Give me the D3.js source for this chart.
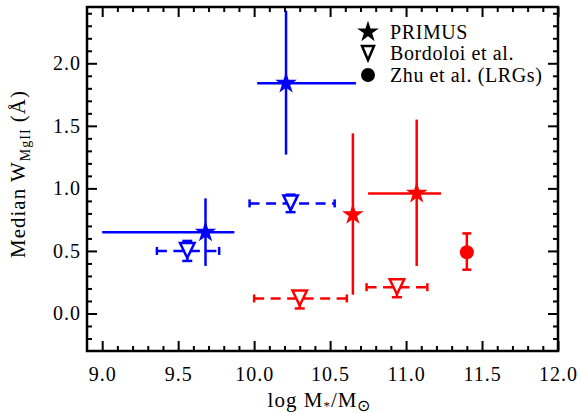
<!DOCTYPE html>
<html>
<head>
<meta charset="utf-8">
<script src="https://cdn.jsdelivr.net/npm/d3@7"></script>
<style>
  body { margin: 0; background: #fff; }
  svg text { font-family: "Liberation Serif", "Times New Roman", serif; }
</style>
</head>
<body>
<div id="chart"></div>
<script>
// values (log M*, median W, and error bar ends)
var primusX    = [9.68, 10.21, 10.65, 11.07];
var primusY    = [0.65, 1.84, 0.79, 0.96];
var primusXLo  = [9.00, 10.02, 10.65, 10.75];
var primusXHi  = [9.87, 10.67, 10.65, 11.23];
var primusYLo  = [0.38, 1.27, 0.15, 0.38];
var primusYHi  = [0.92, 2.42, 1.44, 1.55];
var primusType = ["SF", "SF", "Q", "Q"];

var bordX    = [9.56, 10.24, 10.30, 10.94];
var bordY    = [0.50, 0.88, 0.12, 0.21];
var bordXLo  = [9.36, 9.97, 10.00, 10.74];
var bordXHi  = [9.77, 10.53, 10.61, 11.14];
var bordYLo  = [0.42, 0.81, 0.04, 0.13];
var bordYHi  = [0.58, 0.95, 0.17, 0.27];
var bordType = ["SF", "SF", "Q", "Q"];

var zhuX = [11.40], zhuY = [0.49], zhuYLo = [0.35], zhuYHi = [0.64];

var xMajor = [9.0, 9.5, 10.0, 10.5, 11.0, 11.5, 12.0];
var yMajor = [0.0, 0.5, 1.0, 1.5, 2.0];
var legendLabels = ["PRIMUS", "Bordoloi et al.", "Zhu et al. (LRGs)"];

(function () {
    var serif = '"Liberation Serif", "Times New Roman", serif';
    var margin = { top: 7, right: 23, bottom: 62, left: 87 },
        width = 581,
        height = 413;

    var svg = d3.select('#chart')
                .append('svg')
                .attr('width', width)
                .attr('height', height)
                .append('g')
                .attr('transform', 'translate(' + margin.left + ',' + margin.top + ')');

    width = width - margin.left - margin.right;
    height = height - margin.top - margin.bottom;

    var xScale = d3.scaleLinear().domain([8.9, 12.0]).range([0, width]);
    var yScale = d3.scaleLinear().domain([-0.3, 2.45]).range([height, 0]);
    var colour = d3.scaleOrdinal().domain(["SF", "Q"]).range(["#0000ff", "#ff0000"]);

    // minor tick positions every 0.1
    var xMinor = d3.range(91, 120).map(function (d) { return d / 10; })
                   .filter(function (d) { return Math.round(d * 10) % 5 !== 0; });
    var yMinor = d3.range(-2, 25).map(function (d) { return d / 10; })
                   .filter(function (d) { return Math.round(d * 10) % 5 !== 0; });

    function tidy(g) {
        g.select('.domain').remove();
        g.attr('font-family', serif).attr('font-size', 20);
        g.selectAll('line').attr('stroke', '#000').attr('stroke-width', 2);
        g.selectAll('text').attr('fill', '#000')
            .style('font-family', serif).style('font-size', '20px')
            .style('letter-spacing', '1px');
    }

    // ticks on all four sides, pointing in
    svg.append('g').attr('transform', 'translate(0,' + height + ')')
        .call(d3.axisBottom(xScale).tickValues(xMajor).tickSize(-10).tickPadding(16)
              .tickFormat(d3.format('.1f')))
        .call(tidy);
    svg.append('g').attr('transform', 'translate(0,' + height + ')')
        .call(d3.axisBottom(xScale).tickValues(xMinor).tickSize(-5).tickFormat(''))
        .call(tidy);
    svg.append('g')
        .call(d3.axisTop(xScale).tickValues(xMajor).tickSize(-10).tickFormat(''))
        .call(tidy);
    svg.append('g')
        .call(d3.axisTop(xScale).tickValues(xMinor).tickSize(-5).tickFormat(''))
        .call(tidy);

    svg.append('g')
        .call(d3.axisLeft(yScale).tickValues(yMajor).tickSize(-10).tickPadding(6)
              .tickFormat(d3.format('.1f')))
        .call(tidy);
    svg.append('g')
        .call(d3.axisLeft(yScale).tickValues(yMinor).tickSize(-5).tickFormat(''))
        .call(tidy);
    svg.append('g').attr('transform', 'translate(' + width + ',0)')
        .call(d3.axisRight(yScale).tickValues(yMajor).tickSize(-10).tickFormat(''))
        .call(tidy);
    svg.append('g').attr('transform', 'translate(' + width + ',0)')
        .call(d3.axisRight(yScale).tickValues(yMinor).tickSize(-5).tickFormat(''))
        .call(tidy);

    svg.append('rect')
        .attr('width', width).attr('height', height)
        .attr('fill', 'none').attr('stroke', '#000').attr('stroke-width', 2.5);

    // marker shapes
    var star = d3.symbol().type(d3.symbolStar).size(145);
    function downTriangle(w, h) {
        var p = d3.path();
        p.moveTo(-w / 2, -h / 2 - 1);
        p.lineTo(w / 2, -h / 2 - 1);
        p.lineTo(0, h / 2);
        p.closePath();
        return p.toString();
    }

    // PRIMUS: solid error bars + filled stars
    var primus = d3.range(primusX.length);
    var pg = svg.append('g');
    pg.selectAll('.xerr').data(primus).enter().append('line')
        .attr('x1', function (i) { return xScale(primusXLo[i]); })
        .attr('x2', function (i) { return xScale(primusXHi[i]); })
        .attr('y1', function (i) { return yScale(primusY[i]); })
        .attr('y2', function (i) { return yScale(primusY[i]); })
        .attr('stroke', function (i) { return colour(primusType[i]); })
        .attr('stroke-width', 2.5);
    pg.selectAll('.yerr').data(primus).enter().append('line')
        .attr('x1', function (i) { return xScale(primusX[i]); })
        .attr('x2', function (i) { return xScale(primusX[i]); })
        .attr('y1', function (i) { return yScale(primusYLo[i]); })
        .attr('y2', function (i) { return yScale(primusYHi[i]); })
        .attr('stroke', function (i) { return colour(primusType[i]); })
        .attr('stroke-width', 2.5);
    pg.selectAll('path').data(primus).enter().append('path')
        .attr('d', star)
        .attr('transform', function (i) {
            return 'translate(' + xScale(primusX[i]) + ',' + yScale(primusY[i]) + ')';
        })
        .attr('fill', function (i) { return colour(primusType[i]); });

    // Bordoloi et al.: dashed x bars with end ticks, short y bars, open triangles
    var bord = d3.range(bordX.length);
    var bg = svg.append('g');
    bg.selectAll('.xerr').data(bord).enter().append('line')
        .attr('x1', function (i) { return xScale(bordXLo[i]); })
        .attr('x2', function (i) { return xScale(bordXHi[i]); })
        .attr('y1', function (i) { return yScale(bordY[i]); })
        .attr('y2', function (i) { return yScale(bordY[i]); })
        .attr('stroke', function (i) { return colour(bordType[i]); })
        .attr('stroke-width', 2.5)
        .attr('stroke-dasharray', '10,6.5');
    [bordXLo, bordXHi].forEach(function (arr) {
        bg.selectAll(null).data(bord).enter().append('line')
            .attr('x1', function (i) { return xScale(arr[i]); })
            .attr('x2', function (i) { return xScale(arr[i]); })
            .attr('y1', function (i) { return yScale(bordY[i]) - 4; })
            .attr('y2', function (i) { return yScale(bordY[i]) + 4; })
            .attr('stroke', function (i) { return colour(bordType[i]); })
            .attr('stroke-width', 2.5);
    });
    bg.selectAll(null).data(bord).enter().append('line')
        .attr('x1', function (i) { return xScale(bordX[i]); })
        .attr('x2', function (i) { return xScale(bordX[i]); })
        .attr('y1', function (i) { return yScale(bordYLo[i]); })
        .attr('y2', function (i) { return yScale(bordYHi[i]); })
        .attr('stroke', function (i) { return colour(bordType[i]); })
        .attr('stroke-width', 2.5);
    [bordYLo, bordYHi].forEach(function (arr) {
        bg.selectAll(null).data(bord).enter().append('line')
            .attr('x1', function (i) { return xScale(bordX[i]) - 5; })
            .attr('x2', function (i) { return xScale(bordX[i]) + 5; })
            .attr('y1', function (i) { return yScale(arr[i]); })
            .attr('y2', function (i) { return yScale(arr[i]); })
            .attr('stroke', function (i) { return colour(bordType[i]); })
            .attr('stroke-width', 2.5);
    });
    bg.selectAll('path').data(bord).enter().append('path')
        .attr('d', downTriangle(14.5, 14))
        .attr('transform', function (i) {
            return 'translate(' + xScale(bordX[i]) + ',' + yScale(bordY[i]) + ')';
        })
        .attr('fill', '#fff')
        .attr('stroke', function (i) { return colour(bordType[i]); })
        .attr('stroke-width', 2.5);

    // Zhu et al. LRGs
    var zhu = d3.range(zhuX.length);
    var zg = svg.append('g');
    zg.selectAll('.yerr').data(zhu).enter().append('line')
        .attr('x1', function (i) { return xScale(zhuX[i]); })
        .attr('x2', function (i) { return xScale(zhuX[i]); })
        .attr('y1', function (i) { return yScale(zhuYLo[i]); })
        .attr('y2', function (i) { return yScale(zhuYHi[i]); })
        .attr('stroke', '#ff0000').attr('stroke-width', 2.5);
    [zhuYLo, zhuYHi].forEach(function (arr) {
        zg.selectAll(null).data(zhu).enter().append('line')
            .attr('x1', function (i) { return xScale(zhuX[i]) - 4.5; })
            .attr('x2', function (i) { return xScale(zhuX[i]) + 4.5; })
            .attr('y1', function (i) { return yScale(arr[i]); })
            .attr('y2', function (i) { return yScale(arr[i]); })
            .attr('stroke', '#ff0000').attr('stroke-width', 2.5);
    });
    zg.selectAll('circle').data(zhu).enter().append('circle')
        .attr('cx', function (i) { return xScale(zhuX[i]); })
        .attr('cy', function (i) { return yScale(zhuY[i]); })
        .attr('r', 7)
        .attr('fill', '#ff0000');

    // legend
    var legend = svg.append('g').attr('transform', 'translate(281,0)');
    legendLabels.forEach(function (lab, i) {
        var row = legend.append('g').attr('transform', 'translate(0,' + (25 + i * 21.5) + ')');
        if (i === 0) {
            row.append('path').attr('d', star).attr('fill', '#000');
        } else if (i === 1) {
            row.append('path').attr('d', downTriangle(12, 13)).attr('fill', '#fff')
                .attr('stroke', '#000').attr('stroke-width', 2.5);
        } else {
            row.append('circle').attr('r', 7).attr('fill', '#000');
        }
        row.append('text').attr('x', 22).attr('y', 6.5)
            .style('font-family', serif).style('font-size', '20px')
            .style('letter-spacing', '0.6px').text(lab);
    });

    // axis titles
    var xt = svg.append('text')
        .attr('x', width / 2 - 3).attr('y', height + 56)
        .attr('text-anchor', 'middle')
        .style('font-family', serif).style('font-size', '21px')
        .style('letter-spacing', '1px');
    xt.append('tspan').text('log M');
    xt.append('tspan').attr('dy', 3).style('font-size', '13px').text('*');
    xt.append('tspan').attr('dy', -3).text('/M');
    xt.append('tspan').attr('dy', 4).style('font-size', '16px').text('\u2299');

    var yt = svg.append('text')
        .attr('transform', 'translate(' + (25 - margin.left) + ',' + (174 - margin.top) + ') rotate(-90)')
        .attr('text-anchor', 'middle')
        .style('font-family', serif).style('font-size', '21px')
        .style('letter-spacing', '1px');
    yt.append('tspan').text('Median W');
    yt.append('tspan').attr('dy', 5).style('font-size', '14px').text('MgII');
    yt.append('tspan').attr('dy', -5).text(' (\u00c5)');
})();
</script>
</body>
</html>
